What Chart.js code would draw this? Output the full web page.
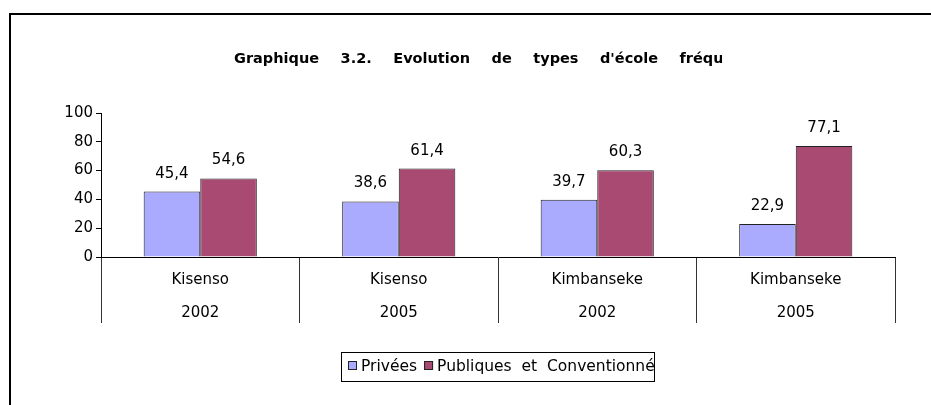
<!DOCTYPE html>
<html lang="fr">
<head>
<meta charset="UTF-8">
<script src="https://cdn.jsdelivr.net/npm/chart.js@4.4.1/dist/chart.umd.min.js"></script>
<title>Graphique 3.2</title>
<style>
  html, body { margin: 0; padding: 0; background: #fff; }
  #wrap { width: 931px; height: 405px; }
</style>
</head>
<body>
<div id="wrap"><canvas id="graphique" width="931" height="405"></canvas></div>
<script>
// données
const communes = ['Kisenso', 'Kisenso', 'Kimbanseke', 'Kimbanseke'];
const annees = ['2002', '2005', '2002', '2005'];
const privees = [45.4, 38.6, 39.7, 22.9];
const publiques = [54.6, 61.4, 60.3, 77.1];
const yTicks = [0, 20, 40, 60, 80, 100];
const titre = "Graphique 3.2. Evolution de types d'école fréquentée";
const series = ['Privées', 'Publiques  et  Conventionnées'];
const couleurs = ['#aaaaff', '#a94a73'];

Chart.defaults.font.family = '"DejaVu Sans", sans-serif';
Chart.defaults.font.size = 15;
Chart.defaults.color = '#000';

// cadre + titre (coupé à droite comme dans l'original)
const cadre = {
    id: 'cadre',
    beforeDraw(chart) {
        const ctx = chart.ctx;
        ctx.save();
        ctx.fillStyle = '#fff';
        ctx.fillRect(0, 0, chart.width, chart.height);
        ctx.restore();
    },
    afterDraw(chart) {
        const ctx = chart.ctx;
        ctx.save();
        ctx.strokeStyle = '#000';
        ctx.lineWidth = 2;
        ctx.beginPath();
        ctx.moveTo(10, chart.height);
        ctx.lineTo(10, 14);
        ctx.lineTo(chart.width, 14);
        ctx.stroke();

        ctx.beginPath();
        ctx.rect(0, 0, 722, 100);
        ctx.clip();
        ctx.font = 'bold 14.5px "DejaVu Sans"';
        ctx.fillStyle = '#000';
        ctx.textAlign = 'left';
        ctx.textBaseline = 'alphabetic';
        let x = 234;
        titre.split(' ').forEach(mot => {
            ctx.fillText(mot, x, 63);
            x += ctx.measureText(mot).width + 21.5;
        });
        ctx.restore();
    }
};

// valeurs au-dessus des barres
const etiquettes = {
    id: 'etiquettes',
    afterDatasetsDraw(chart) {
        const ctx = chart.ctx;
        ctx.save();
        ctx.font = '15px "DejaVu Sans"';
        ctx.fillStyle = '#000';
        ctx.textAlign = 'center';
        ctx.textBaseline = 'alphabetic';
        chart.data.datasets.forEach((ds, i) => {
            chart.getDatasetMeta(i).data.forEach((bar, j) => {
                ctx.fillText(ds.data[j].toFixed(1).replace('.', ','), bar.x, bar.y - 14);
            });
        });
        ctx.restore();
    }
};

// légende encadrée en bas
const legende = {
    id: 'legende',
    afterDraw(chart) {
        const ctx = chart.ctx;
        const x0 = 341, y0 = 352, w = 313, h = 29;
        ctx.save();
        ctx.strokeStyle = '#000';
        ctx.lineWidth = 1;
        ctx.strokeRect(x0 + 0.5, y0 + 0.5, w, h);
        ctx.beginPath();
        ctx.rect(x0, y0, w, h);
        ctx.clip();
        ctx.font = '15.5px "DejaVu Sans"';
        ctx.textBaseline = 'alphabetic';
        ctx.textAlign = 'left';
        let x = 348;
        chart.data.datasets.forEach(ds => {
            ctx.fillStyle = ds.backgroundColor;
            ctx.fillRect(x, 361, 9, 9);
            ctx.strokeStyle = '#222';
            ctx.strokeRect(x + 0.5, 361.5, 8, 8);
            ctx.fillStyle = '#000';
            ctx.fillText(ds.label, x + 13, 371);
            x += 13 + ctx.measureText(ds.label).width + 7;
        });
        ctx.restore();
    }
};

new Chart(document.getElementById('graphique'), {
    type: 'bar',
    data: {
        labels: communes.map((c, i) => [c, annees[i]]),
        datasets: [
            {
                label: series[0],
                data: privees,
                backgroundColor: couleurs[0],
                borderColor: '#222',
                borderWidth: 1,
                categoryPercentage: 0.57,
                barPercentage: 1.0
            },
            {
                label: series[1],
                data: publiques,
                backgroundColor: couleurs[1],
                borderColor: '#222',
                borderWidth: 1,
                categoryPercentage: 0.57,
                barPercentage: 1.0
            }
        ]
    },
    options: {
        responsive: false,
        animation: false,
        layout: { padding: { top: 113, right: 36, bottom: 82, left: 0 } },
        plugins: {
            legend: { display: false },
            title: { display: false },
            tooltip: { enabled: false }
        },
        scales: {
            x: {
                grid: { offset: true, drawOnChartArea: false, drawTicks: true, tickLength: 66, color: '#333' },
                border: { display: true, color: '#000', width: 1 },
                ticks: { padding: -60, maxRotation: 0, autoSkip: false, font: { size: 15, lineHeight: 2.23 } },
                afterFit: s => { s.height = 66; }
            },
            y: {
                min: 0,
                max: 100,
                afterBuildTicks: s => { s.ticks = yTicks.map(v => ({ value: v })); },
                grid: { drawOnChartArea: false, drawTicks: true, tickLength: 5, color: '#000' },
                border: { display: true, color: '#000', width: 1 },
                ticks: { padding: 3, font: { size: 15 } },
                afterFit: s => { s.width = 101; }
            }
        }
    },
    plugins: [cadre, etiquettes, legende]
});
</script>
</body>
</html>
